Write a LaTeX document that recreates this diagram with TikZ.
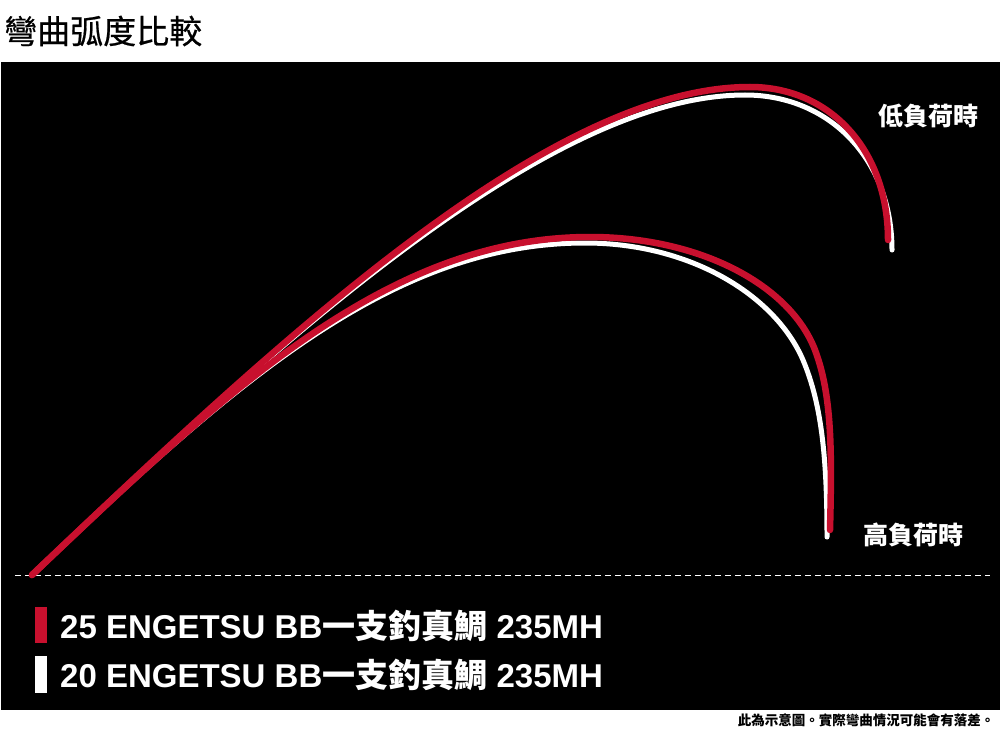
\documentclass[tikz,border=0pt]{standalone}
\usepackage{fontspec}
\setmainfont{Liberation Sans}
\newfontfamily\cjk{Noto Sans CJK TC}
\newfontfamily\cjkmid[FakeBold=0.6]{Noto Sans CJK TC}
\usepackage{tikz}
\definecolor{rodred}{RGB}{200,16,46}
\tikzset{
  redrod/.style={line width=6.5pt, draw=rodred, line cap=round},
  whiterod/.style={line width=5pt, draw=white, line cap=round},
  loadtext/.style={white, inner sep=0pt, font=\cjk\bfseries\fontsize{25}{28}\selectfont},
  legendtext/.style={white, inner sep=0pt, anchor=base west, font=\bfseries\fontsize{33}{38}\selectfont}
}

\begin{document}
\begin{tikzpicture}[x=1pt,y=-1pt]
		\useasboundingbox (0,0) rectangle (1000,730);
		\fill[white] (0,0) rectangle (1000,730);
		\fill[black] (1,62) rectangle (1000,710);
		\node[anchor=west, inner sep=0pt] (title) at (4,31) {\cjkmid\fontsize{33}{36}\selectfont 彎曲弧度比較};
		% base line of the rod
		\coordinate (base) at (32,575);
		\draw[white, line width=1pt, dash pattern=on 6pt off 4pt] (15,575) -- (990,575);
		% 20 model
		\draw[whiterod] (base) .. controls (282,337) and (550,95) .. (745,95) .. controls (830,95) and (892,160) .. (892,250);
		\draw[whiterod] (base) .. controls (232,385) and (390,243) .. (585,243) .. controls (690,243) and (775,295) .. (803,360) .. controls (822,405) and (827,460) .. (827,537);
		% 25 model
		\draw[redrod] (base) .. controls (282,337) and (550,87) .. (750,87) .. controls (830,87) and (888,150) .. (888,240);
		\draw[redrod] (base) .. controls (232,385) and (390,237) .. (590,237) .. controls (700,237) and (790,285) .. (815,350) .. controls (832,395) and (832,450) .. (830,530);
		\node[loadtext] (low) at (928,116) {低負荷時};
		\node[loadtext] (high) at (913,535) {高負荷時};
		% legend
		\fill[rodred] (35,607) rectangle (47,643);
		\fill[white] (35,656) rectangle (47,693);
		\node[legendtext] (new) at (60,638) {25 ENGETSU BB{\cjk 一支釣真鯛} 235MH};
		\node[legendtext] (old) at (60,687) {20 ENGETSU BB{\cjk 一支釣真鯛} 235MH};
		\node[inner sep=0pt] (note) at (866,720) {\cjk\bfseries\fontsize{13.5}{15}\selectfont 此為示意圖。實際彎曲情況可能會有落差。};
	\end{tikzpicture}
\end{document}
